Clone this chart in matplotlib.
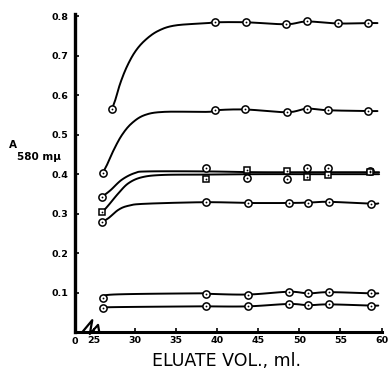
import numpy as np
import matplotlib
matplotlib.use("Agg")
import matplotlib.pyplot as plt

# ---- data ----
# marker data: (x, y) for each series
s1_x = [27.2, 39.7, 43.5, 48.4, 50.9, 54.7, 58.3]
s1_y = [0.565, 0.785, 0.785, 0.780, 0.787, 0.782, 0.783]
s2_x = [26.1, 39.7, 43.4, 48.5, 50.9, 53.5, 58.4]
s2_y = [0.404, 0.562, 0.564, 0.557, 0.566, 0.562, 0.560]
s3_x = [26.0, 38.6, 43.6, 48.5, 50.9, 53.5, 58.6]
s3_y = [0.343, 0.415, 0.390, 0.388, 0.415, 0.415, 0.409]
s4_x = [26.0, 38.6, 43.6, 48.5, 50.9, 53.5, 58.6]
s4_y = [0.303, 0.388, 0.411, 0.409, 0.394, 0.397, 0.406]
s5_x = [26.0, 38.6, 43.7, 48.7, 51.1, 53.6, 58.7]
s5_y = [0.278, 0.329, 0.327, 0.327, 0.328, 0.330, 0.325]
s6_x = [26.1, 38.6, 43.7, 48.7, 51.1, 53.6, 58.7]
s6_y = [0.087, 0.097, 0.095, 0.102, 0.098, 0.101, 0.098]
s7_x = [26.1, 38.6, 43.7, 48.7, 51.1, 53.6, 58.7]
s7_y = [0.061, 0.065, 0.065, 0.071, 0.068, 0.070, 0.067]

# hand-drawn curve paths
c1_x = [27.2, 27.6, 28.2, 29.0, 30.0, 31.2, 32.8, 34.9, 38.9, 39.7, 43.5, 48.4, 50.9, 54.7, 58.3, 59.5]
c1_y = [0.565, 0.588, 0.630, 0.672, 0.710, 0.739, 0.763, 0.777, 0.783, 0.785, 0.785, 0.780, 0.787, 0.782, 0.783, 0.783]
c2_x = [26.1, 26.6, 27.4, 28.4, 29.6, 31.2, 33.6, 38.9, 39.7, 43.4, 48.5, 50.9, 53.5, 58.4, 59.5]
c2_y = [0.404, 0.424, 0.461, 0.499, 0.529, 0.550, 0.558, 0.558, 0.562, 0.564, 0.557, 0.566, 0.562, 0.560, 0.560]
c3_x = [26.0, 27.0, 28.4, 30.0, 31.6, 38.6, 45.0, 52.0, 59.7]
c3_y = [0.343, 0.359, 0.386, 0.403, 0.407, 0.407, 0.405, 0.405, 0.405]
c4_x = [26.0, 26.8, 28.0, 29.2, 30.8, 33.3, 38.6, 45.0, 52.0, 59.7]
c4_y = [0.303, 0.322, 0.352, 0.377, 0.392, 0.398, 0.399, 0.400, 0.400, 0.400]
c5_x = [26.0, 26.8, 28.0, 29.2, 31.2, 38.6, 43.7, 48.7, 51.1, 53.6, 58.7, 59.6]
c5_y = [0.278, 0.289, 0.310, 0.320, 0.325, 0.329, 0.327, 0.327, 0.328, 0.330, 0.325, 0.326]
c6_x = [26.1, 27.4, 37.9, 38.6, 43.7, 48.7, 51.1, 53.6, 58.7, 59.6]
c6_y = [0.087, 0.095, 0.098, 0.097, 0.095, 0.102, 0.098, 0.101, 0.098, 0.098]
c7_x = [26.1, 27.4, 37.9, 38.6, 43.7, 48.7, 51.1, 53.6, 58.7, 59.6]
c7_y = [0.061, 0.063, 0.065, 0.065, 0.065, 0.071, 0.068, 0.070, 0.067, 0.067]

x_ticks = [25, 30, 35, 40, 45, 50, 55, 60]
x_ticklabels = ["25", "30", "35", "40", "45", "50", "55", "60"]
y_ticks = [0.1, 0.2, 0.3, 0.4, 0.5, 0.6, 0.7, 0.8]
y_ticklabels = ["0.1", "0.2", "0.3", "0.4", "0.5", "0.6", "0.7", "0.8"]
x_label = "ELUATE VOL., ml."


def smooth(xs, ys, n=12):
    """Catmull-Rom rendering of a hand-drawn polyline."""
    p = np.column_stack([xs, ys]).astype(float)
    p = np.vstack([p[0], p, p[-1]])
    out = []
    for i in range(1, len(p) - 2):
        p0, p1, p2, p3 = p[i - 1], p[i], p[i + 1], p[i + 2]
        t = np.linspace(0, 1, n, endpoint=False)[:, None]
        seg = 0.5 * ((2 * p1) + (-p0 + p2) * t + (2 * p0 - 5 * p1 + 4 * p2 - p3) * t ** 2
                     + (-p0 + 3 * p1 - 3 * p2 + p3) * t ** 3)
        out.append(seg)
    out.append(p[-2][None, :])
    out = np.vstack(out)
    return out[:, 0], out[:, 1]


fig = plt.figure(figsize=(3.88, 3.73), dpi=100)
ax = fig.add_axes([75 / 388, 1 - 332 / 373, (382 - 75) / 388, (332 - 14) / 373])
x0, x1 = 22.7, 60.05
ax.set_xlim(x0, x1)
ax.set_ylim(0, 0.806)

lw = 1.4
for cx, cy in [(c1_x, c1_y), (c2_x, c2_y), (c3_x, c3_y), (c4_x, c4_y),
               (c5_x, c5_y), (c6_x, c6_y), (c7_x, c7_y)]:
    sx, sy = smooth(cx, cy)
    ax.plot(sx, sy, color="black", lw=lw, solid_capstyle="round", zorder=2)

ms = 5.2
for mx, my, mk in [(s1_x, s1_y, "o"), (s2_x, s2_y, "o"), (s3_x, s3_y, "o"),
                   (s4_x, s4_y, "s"), (s5_x, s5_y, "o"), (s6_x, s6_y, "o"),
                   (s7_x, s7_y, "o")]:
    ax.plot(mx, my, linestyle="none", marker=mk, ms=ms if mk == "o" else ms - 0.6,
            mfc="white", mec="black", mew=1.1, zorder=3)
    ax.plot(mx, my, linestyle="none", marker="o", ms=1.3, mfc="black",
            mec="black", mew=0, zorder=4)

for s in ["top", "right"]:
    ax.spines[s].set_visible(False)
ax.spines["left"].set_linewidth(2.4)
ax.spines["bottom"].set_linewidth(2.2)

ax.set_xticks(x_ticks)
ax.set_xticklabels(x_ticklabels)
ax.set_yticks(y_ticks)
ax.set_yticklabels(y_ticklabels)
ax.tick_params(axis="both", direction="in", length=3, width=1.2, colors="black")
ax.tick_params(axis="y", pad=5)
ax.tick_params(axis="x", pad=3)
for lab in ax.get_xticklabels() + ax.get_yticklabels():
    lab.set_fontsize(6.8)
    lab.set_fontweight("bold")

# origin label and axis break
ax.text(x0, -0.013, "0", ha="center", va="top", fontsize=6.8, fontweight="bold")
brk_x = [x0 + 0.9, x0 + 2.1, x0 + 1.8, x0 + 2.8, x0 + 2.95]
brk_y = [0.0, 0.03, -0.005, 0.018, 0.0]
ax.plot(brk_x, brk_y, color="black", lw=1.6, clip_on=False, zorder=5)

ax.set_xlabel(x_label, fontsize=12.5, va="center")
ax.xaxis.set_label_coords((226 - 75) / (382 - 75), -(361 - 332) / (332 - 14))

fig.text(13 / 388, 1 - 145 / 373, "A", fontsize=7.5, fontweight="bold", ha="center", va="center")
fig.text(17 / 388, 1 - 157 / 373, "580 m\u03bc", fontsize=7.5, fontweight="bold", ha="left", va="center")

fig.savefig("out.png", dpi=100)
